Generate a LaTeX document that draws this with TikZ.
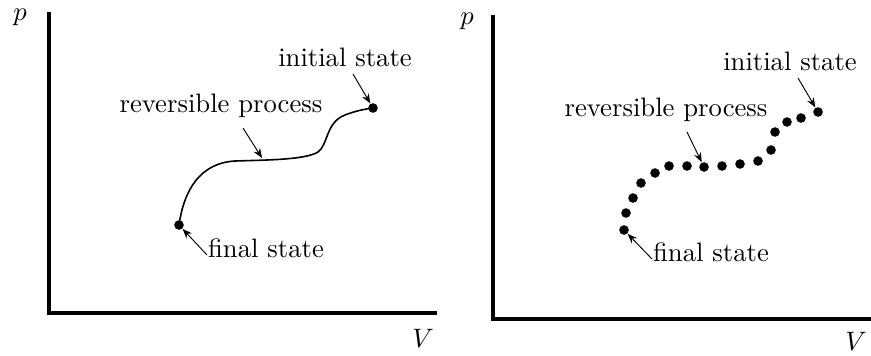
\documentclass[tikz,border=0pt]{standalone}
\usetikzlibrary{arrows.meta}
\begin{document}
\begin{tikzpicture}[x=0.375pt, y=-0.375pt,
  axis/.style={line width=1.15pt},
  state/.style={circle, fill=black, inner sep=0pt, minimum size=3.6pt},
  pointer/.style={line width=0.35pt, -{Stealth[length=3.6pt, width=2.8pt]}},
  lbl/.style={inner sep=0pt, anchor=base}]
  \useasboundingbox (0,0) rectangle (871,355);

  % left: continuous path
  \draw[axis] (49,12) -- (49,313) -- (437,313);
  \node[inner sep=0pt] (pA) at (20,17) {$p$};
  \node[inner sep=0pt] (vA) at (423,338) {$V$};

  \node[state] (iniA) at (373,108) {};
  \node[state] (finA) at (179,225) {};
  \draw[line width=0.6pt] (finA.center)
    .. controls (184,190) and (200,163) .. (235,161)
    .. controls (265,160) and (305,160) .. (318,152)
    .. controls (328,145) and (326,122) .. (345,115)
    .. controls (355,111) and (365,109) .. (iniA.center);

  \node[lbl] (iniAL) at (345,66) {initial state};
  \node[lbl] (revAL) at (221,112) {reversible process};
  \node[lbl] (finAL) at (266,257) {final state};
  \coordinate (iniAT) at (353,74);
  \coordinate (revAT) at (243,128);
  \coordinate (revAH) at (262,158);
  \coordinate (finAT) at (207,255);
  \draw[pointer] (iniAT) -- (iniA);
  \draw[pointer] (revAT) -- (revAH);
  \draw[pointer] (finAT) -- (finA);

  % right: sequence of equilibrium states
  \draw[axis] (493,15) -- (493,319) -- (871,319);
  \node[inner sep=0pt] (pB) at (467,21) {$p$};
  \node[inner sep=0pt] (vB) at (856,341) {$V$};

  \foreach \x/\y [count=\i] in {818/112, 801/118, 787/122, 775/132, 771/150,
      758/161, 740/164, 722/166, 704/167, 687/166, 669/166, 655/173,
      641/183, 633/198, 626/213, 624/230}
    \node[state] (s\i) at (\x,\y) {};

  \node[lbl] (iniBL) at (790,70) {initial state};
  \node[lbl] (revBL) at (666,116) {reversible process};
  \node[lbl] (finBL) at (711,261) {final state};
  \coordinate (iniBT) at (798,78);
  \coordinate (revBT) at (687,132);
  \coordinate (finBT) at (652,259);
  \draw[pointer] (iniBT) -- (s1);
  \draw[pointer] (revBT) -- (s9);
  \draw[pointer] (finBT) -- (s16);

\end{tikzpicture}
\end{document}
